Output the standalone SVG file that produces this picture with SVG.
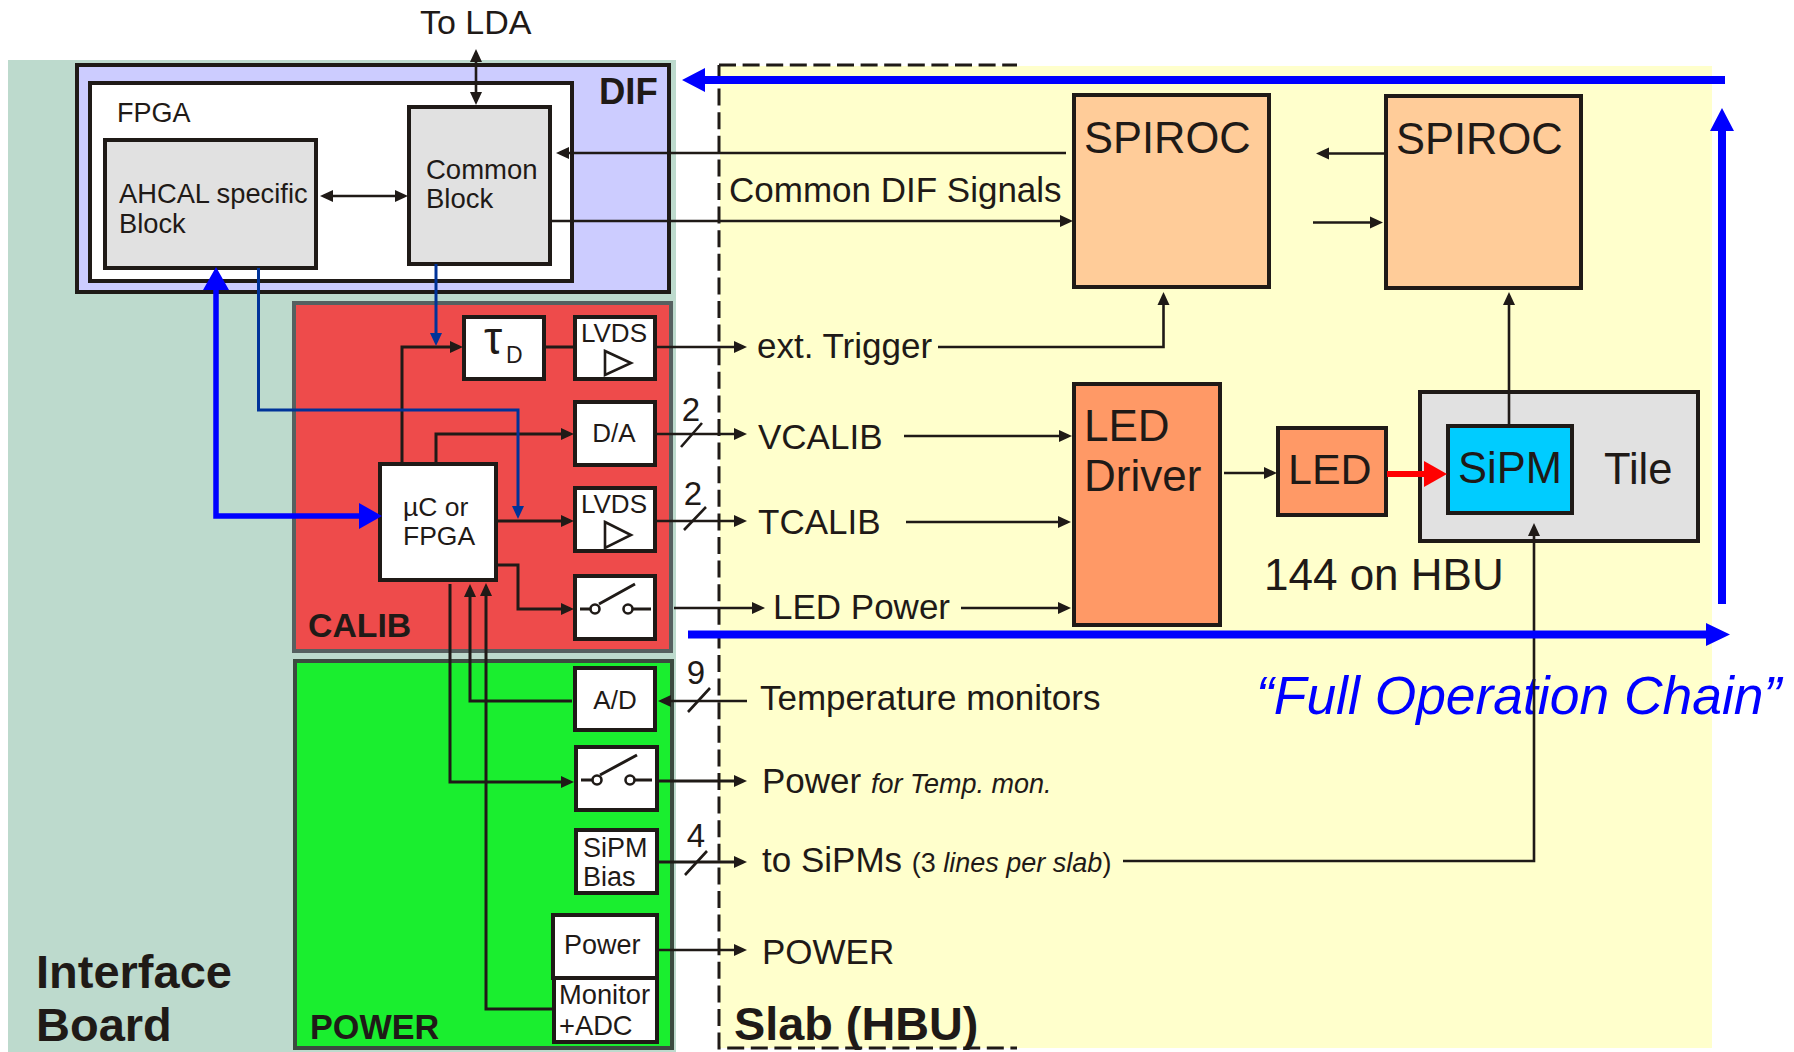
<svg xmlns="http://www.w3.org/2000/svg" width="1794" height="1052" viewBox="0 0 1794 1052">
<style>
text{font-family:"Liberation Sans",Arial,sans-serif;fill:#1f1a17}
.b{font-weight:bold}
.box{stroke:#1f1a17;stroke-width:4}
.w{fill:#fff}.g{fill:#e1e1e1}.o{fill:#ffcc99}.d{fill:#ff9966}
.l{fill:none;stroke:#1f1a17;stroke-width:3}
.t{fill:none;stroke:#1f1a17;stroke-width:2.6}
.s{font-size:26px}.m{font-size:35px}.h{font-size:44px}
.a{marker-end:url(#ah)}
.ts{font-size:27px;font-style:italic}
</style>
<defs>
<marker id="ah" markerUnits="userSpaceOnUse" markerWidth="14" markerHeight="14" refX="9" refY="7" orient="auto-start-reverse"><path d="M0 1L13 7L0 13z" fill="#1f1a17"/></marker>
<marker id="ab" markerUnits="userSpaceOnUse" markerWidth="14" markerHeight="16" refX="9" refY="8" orient="auto"><path d="M0 2L13 8L0 14z" fill="#003399"/></marker>
</defs>
<g id="backgrounds">
<rect x="8" y="60" width="668" height="992" fill="#bddacd"/>
<rect x="720" y="66" width="992" height="982" fill="#ffffcc"/>
</g>
<g id="dif"><rect class="box" x="77" y="65" width="592" height="227" fill="#ccccff"/><text class="b" x="599" y="104" font-size="36.500">DIF</text></g>
<g id="fpga"><rect class="box" x="90" y="83" width="482" height="198" fill="#fff"/><text x="117" y="122" font-size="27">FPGA</text></g>
<g id="ahcal"><rect class="box g" x="105" y="140" width="211" height="128"/><text x="119" y="203" font-size="27.300">AHCAL specific</text><text x="119" y="233" font-size="27.300">Block</text></g>
<g id="common"><rect class="box g" x="409" y="107" width="141" height="157"/><text x="426" y="179" font-size="27.500">Common</text><text x="426" y="208" font-size="27.500">Block</text></g>
<g id="calib"><rect x="294" y="303" width="377" height="348" fill="#ee4b4b" stroke="#566060" stroke-width="4"/><text class="b" x="308" y="637" font-size="33.800">CALIB</text></g>
<g id="power-area"><rect x="295" y="661" width="377" height="387" fill="#1aee2f" stroke="#3c4a40" stroke-width="4"/><text class="b" x="310" y="1039" font-size="34.200">POWER</text></g>
<g id="taud"><rect class="box w" x="464" y="317" width="80" height="62"/><text x="484" y="354" font-size="46" font-family="Liberation Serif">τ</text><text x="506" y="363" font-size="23">D</text></g>
<g id="lvds1"><rect class="box w" x="575" y="317" width="80" height="62"/><text class="s" x="614" y="342" text-anchor="middle">LVDS</text><path class="t" d="M605 351L631 363L605 375z"/></g>
<g id="da"><rect class="box w" x="575" y="402" width="80" height="63"/><text class="s" x="614" y="442" text-anchor="middle">D/A</text></g>
<g id="lvds2"><rect class="box w" x="575" y="488" width="80" height="63"/><text class="s" x="614" y="513" text-anchor="middle">LVDS</text><path class="t" d="M605 522L631 535L605 548z"/></g>
<g id="switch1"><rect class="box w" x="575" y="576" width="80" height="63"/><path class="l" d="M580 609H591M633 609H651M599 604L635 584"/><circle class="t" cx="595" cy="609" r="4.500" fill="#fff"/><circle class="t" cx="628" cy="609" r="4.500" fill="#fff"/></g>
<g id="uc"><rect class="box w" x="380" y="464" width="116" height="116"/><text x="403" y="516" font-size="26.500">µC or</text><text x="403" y="545" font-size="26.500">FPGA</text></g>
<g id="ad"><rect class="box w" x="575" y="668" width="80" height="62"/><text class="s" x="615" y="709" text-anchor="middle">A/D</text></g>
<g id="switch2"><rect class="box w" x="576" y="747" width="81" height="63"/><path class="l" d="M581 780H592M634 780H652M600 775L637 755"/><circle class="t" cx="597" cy="780" r="4.500" fill="#fff"/><circle class="t" cx="630" cy="780" r="4.500" fill="#fff"/></g>
<g id="bias"><rect class="box w" x="576" y="830" width="81" height="63"/><text x="583" y="857" font-size="27">SiPM</text><text x="583" y="886" font-size="27">Bias</text></g>
<g id="power"><rect class="box w" x="553" y="915" width="104" height="63"/><text x="564" y="954" font-size="27">Power</text></g>
<g id="monitor"><rect class="box w" x="554" y="978" width="103" height="64"/><text x="559" y="1004" font-size="27.300">Monitor</text><text x="559" y="1035" font-size="27.300">+ADC</text></g>
<g id="spiroc1"><rect class="box o" x="1074" y="95" width="195" height="192"/><text x="1084" y="153" font-size="43.500">SPIROC</text></g>
<g id="spiroc2"><rect class="box o" x="1386" y="96" width="195" height="192"/><text x="1396" y="154" font-size="43.500">SPIROC</text></g>
<g id="leddriver"><rect class="box d" x="1074" y="384" width="146" height="241"/><text class="h" x="1084" y="441">LED</text><text class="h" x="1084" y="491">Driver</text></g>
<g id="led"><rect class="box d" x="1278" y="428" width="108" height="87"/><text x="1288" y="484" font-size="43">LED</text></g>
<g id="tile"><rect class="box g" x="1420" y="392" width="278" height="149"/><text x="1604" y="484" font-size="43.500">Tile</text></g>
<g id="sipm"><rect class="box" x="1448" y="426" width="124" height="87" fill="#00ccff"/><text x="1458" y="483" font-size="43.500">SiPM</text></g>
<g id="labels">
<text x="420" y="34" font-size="34">To LDA</text>
<text class="m" x="729" y="202">Common DIF Signals</text>
<text class="m" x="757" y="358">ext. Trigger</text>
<text class="m" x="758" y="449">VCALIB</text>
<text class="m" x="758" y="534">TCALIB</text>
<text class="m" x="773" y="619">LED Power</text>
<text class="m" x="760" y="710">Temperature monitors</text>
<text class="m" x="762" y="793">Power <tspan class="ts">for Temp. mon.</tspan></text>
<text class="m" x="762" y="872">to SiPMs <tspan font-size="27">(3 <tspan font-style="italic">lines per slab</tspan>)</tspan></text>
<text class="m" x="762" y="964">POWER</text>
<text class="h" x="1264" y="590">144 on HBU</text>
<text class="b" x="36" y="988" font-size="47">Interface</text>
<text class="b" x="36" y="1041" font-size="47">Board</text>
<text class="b" x="734" y="1040" font-size="46.800">Slab (HBU)</text>
<text x="1256" y="714" font-size="53.400" font-style="italic" style="fill:#0000ff">“Full Operation Chain”</text>
<text x="691" y="421" font-size="33" text-anchor="middle">2</text>
<text x="693" y="505" font-size="33" text-anchor="middle">2</text>
<text x="696" y="684" font-size="33" text-anchor="middle">9</text>
<text x="696" y="847" font-size="33" text-anchor="middle">4</text>
</g>
<g id="connectors">
<path d="M719 65H1017M719 65V1048H1017" fill="none" stroke="#1f1a17" stroke-width="3" stroke-dasharray="17 6.600"/>
<path class="t a" d="M476 53V101" style="marker-start:url(#ah)"/>
<path class="t a" d="M1066 153H560"/>
<path class="t a" d="M550 221H1069"/>
<path class="t a" d="M324 196H404" style="marker-start:url(#ah)"/>
<path class="l a" d="M402 463V347H459"/>
<path class="l a" d="M436 463V434H570"/>
<path class="l a" d="M496 521H570"/>
<path class="l a" d="M496 565H518V609H570"/>
<path class="l a" d="M450 584V782H570"/>
<path class="l a" d="M572 701H470V588"/>
<path class="l a" d="M553 1009H486V587"/>
<path class="l" d="M544 347H575"/>
<path class="t a" d="M655 347H743"/>
<path class="t a" d="M655 434H743"/>
<path class="t a" d="M655 521H743"/>
<path class="t a" d="M674 608H761"/>
<path class="t a" d="M747 701H662"/>
<path class="l a" d="M657 781H743"/>
<path class="l a" d="M657 862H743"/>
<path class="t a" d="M657 950H743"/>
<path class="t" d="M681 447L702 423M684 530L706 507M688 712L710 688M685 875L707 851"/>
<path fill="none" stroke="#003399" stroke-width="3" d="M436 264V342" marker-end="url(#ab)"/>
<path fill="none" stroke="#003399" stroke-width="3" d="M258.500 268V410H518V515" marker-end="url(#ab)"/>
<path class="t a" d="M938 347H1163.500V296"/>
<path class="t a" d="M1385 153.500H1320"/>
<path class="t a" d="M1313 222.500H1379"/>
<path class="t a" d="M1509 426V296"/>
<path class="t a" d="M904 436H1068"/>
<path class="t a" d="M906 522H1067"/>
<path class="t a" d="M961 608H1067"/>
<path class="t a" d="M1224 473H1273"/>
<path class="t a" d="M1123 861H1534V527"/>
<path fill="none" stroke="#ff0000" stroke-width="6" d="M1387 474H1426"/><path fill="#ff0000" d="M1424 461L1447 474L1424 487z"/>
<path fill="none" stroke="#0000ff" stroke-width="5.500" d="M216 288V516H361"/>
<path fill="#0000ff" d="M216 267L229 290H203zM382 516L359 529V503z"/>
<path fill="none" stroke="#0000ff" stroke-width="8" d="M703 80H1725M688 634.500H1708M1722 604V129"/>
<path fill="#0000ff" d="M682 80L705 68V92zM1730 634.500L1706 623V646zM1722 108L1734 131H1710z"/>
</g>
</svg>
